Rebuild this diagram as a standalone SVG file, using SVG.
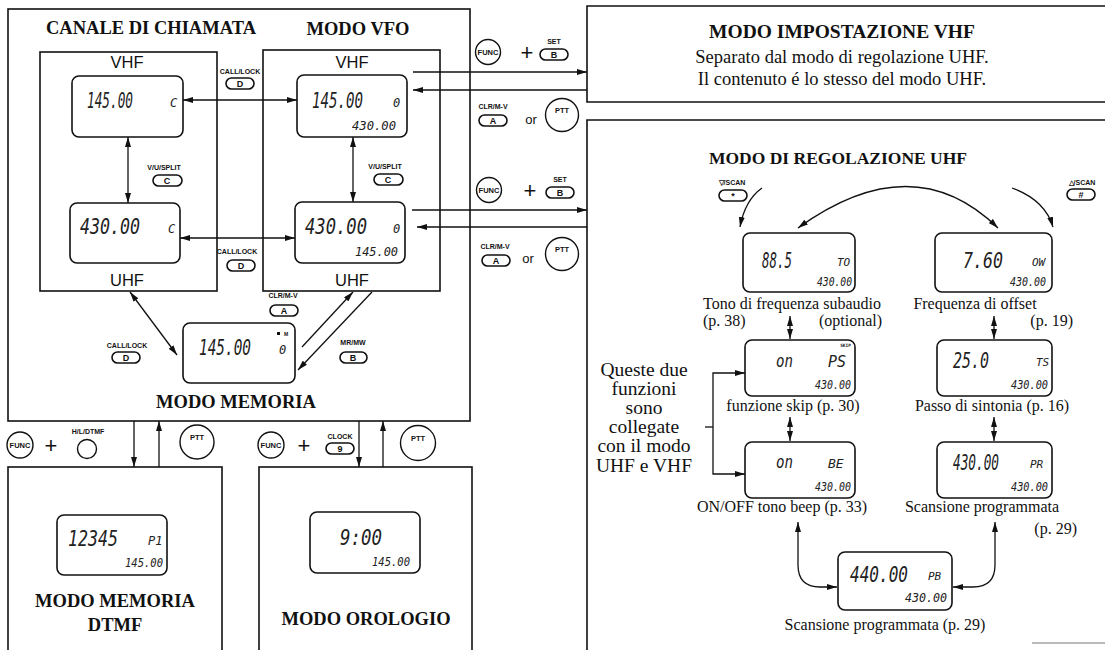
<svg xmlns="http://www.w3.org/2000/svg" width="1105" height="650" viewBox="0 0 1105 650">
<defs>
<marker id="ah" viewBox="0 0 10 6" refX="10" refY="3" markerWidth="10" markerHeight="6" orient="auto-start-reverse" markerUnits="userSpaceOnUse"><path d="M0,0 L10,3 L0,6 z" fill="#111"/></marker>
<style>
.box{fill:none;stroke:#111;stroke-width:1.6}
.lcd{fill:#fff;stroke:#111;stroke-width:1.6}
.ln{fill:none;stroke:#111;stroke-width:1.3}
.a2{marker-start:url(#ah);marker-end:url(#ah)}
.a1{marker-end:url(#ah)}
.hd{font-family:"Liberation Serif",serif;font-weight:bold;font-size:18.5px;fill:#111;text-anchor:middle}
.sv{font-family:"Liberation Sans",sans-serif;font-size:16.5px;fill:#111;text-anchor:middle}
.tx{font-family:"Liberation Serif",serif;font-size:16px;fill:#111}
.big{font-family:"Liberation Serif",serif;font-size:19.5px;fill:#111;text-anchor:middle}
.dg{font-family:"DejaVu Sans Mono",monospace;font-style:italic;font-size:21px;fill:#222}
.ds{font-family:"DejaVu Sans Mono",monospace;font-style:italic;font-size:12px;fill:#222}
.kl{font-family:"Liberation Sans",sans-serif;font-weight:bold;font-size:7px;fill:#111;text-anchor:middle}
.key{fill:#fff;stroke:#111;stroke-width:1.6}
.kt{font-family:"Liberation Sans",sans-serif;font-weight:bold;font-size:9px;fill:#111;text-anchor:middle}
.cir{fill:#fff;stroke:#111;stroke-width:1.4}
.ct{font-family:"Liberation Sans",sans-serif;font-weight:bold;font-size:7.5px;fill:#111;text-anchor:middle}
.pl{font-family:"Liberation Sans",sans-serif;font-size:22px;fill:#111;text-anchor:middle}
.or{font-family:"Liberation Sans",sans-serif;font-size:13px;fill:#111;text-anchor:middle}
</style>
</defs>

<!-- frames -->
<g id="main-frame">
<rect class="box" x="8" y="9" width="462" height="412"/>
<text class="hd" x="236" y="408">MODO MEMORIA</text>
</g>
<g id="canale">
<text class="hd" x="151" y="34">CANALE DI CHIAMATA</text>
<rect class="box" x="40" y="52" width="177" height="239"/>
<text class="sv" x="127" y="68">VHF</text>
<text class="sv" x="127" y="286">UHF</text>
</g>
<g id="vfo">
<text class="hd" x="358" y="35">MODO VFO</text>
<rect class="box" x="263" y="50" width="177" height="241"/>
<text class="sv" x="352" y="68">VHF</text>
<text class="sv" x="352" y="286">UHF</text>
</g>

<!-- LCDs left -->
<g id="lcd-call-vhf">
<rect class="lcd" x="72" y="76" width="111" height="61" rx="7"/>
<text class="dg" x="87" y="108" textLength="46" lengthAdjust="spacingAndGlyphs">145.00</text>
<text class="ds" x="170" y="107">C</text>
</g>
<g id="lcd-call-uhf">
<rect class="lcd" x="70" y="203" width="110" height="60" rx="7"/>
<text class="dg" x="80" y="234" textLength="60" lengthAdjust="spacingAndGlyphs">430.00</text>
<text class="ds" x="168" y="233">C</text>
</g>
<g id="lcd-vfo-vhf">
<rect class="lcd" x="297" y="75" width="110" height="62" rx="7"/>
<text class="dg" x="312" y="108" textLength="51" lengthAdjust="spacingAndGlyphs">145.00</text>
<text class="ds" x="393" y="107">0</text>
<text class="ds" x="352" y="130" textLength="44" lengthAdjust="spacingAndGlyphs">430.00</text>
</g>
<g id="lcd-vfo-uhf">
<rect class="lcd" x="295" y="202" width="110" height="61" rx="7"/>
<text class="dg" x="305" y="234" textLength="62" lengthAdjust="spacingAndGlyphs">430.00</text>
<text class="ds" x="393" y="233">0</text>
<text class="ds" x="355" y="256" textLength="43" lengthAdjust="spacingAndGlyphs">145.00</text>
</g>
<g id="lcd-memory">
<rect class="lcd" x="183" y="323" width="112" height="60" rx="7"/>
<text class="dg" x="199" y="355" textLength="52" lengthAdjust="spacingAndGlyphs">145.00</text>
<text class="ds" x="279" y="354">0</text>
<rect x="277" y="332" width="3" height="3" fill="#111"/>
<text class="kl" x="286" y="336" style="font-size:5px">M</text>
</g>

<!-- keys in left area -->
<g id="key-calllock-top">
<text class="kl" x="240" y="74">CALL/LOCK</text>
<rect class="key" x="226" y="78" width="28" height="11" rx="5.5"/><text class="kt" x="240" y="87">D</text>
</g>
<g id="key-vusplit-left">
<text class="kl" x="164" y="170">V/U/SPLIT</text>
<rect class="key" x="153" y="175" width="29" height="11" rx="5.5"/><text class="kt" x="167" y="184">C</text>
</g>
<g id="key-vusplit-right">
<text class="kl" x="385" y="169">V/U/SPLIT</text>
<rect class="key" x="374" y="174" width="29" height="11" rx="5.5"/><text class="kt" x="388" y="183">C</text>
</g>
<g id="key-calllock-mid">
<text class="kl" x="237" y="254">CALL/LOCK</text>
<rect class="key" x="227" y="260" width="28" height="11" rx="5.5"/><text class="kt" x="241" y="269">D</text>
</g>
<g id="key-clrmv-mem">
<text class="kl" x="283" y="298">CLR/M-V</text>
<rect class="key" x="270" y="305" width="28" height="11" rx="5.5"/><text class="kt" x="284" y="314">A</text>
</g>
<g id="key-calllock-left">
<text class="kl" x="127" y="348">CALL/LOCK</text>
<rect class="key" x="112" y="352" width="28" height="11" rx="5.5"/><text class="kt" x="126" y="361">D</text>
</g>
<g id="key-mrmw">
<text class="kl" x="353" y="345">MR/MW</text>
<rect class="key" x="340" y="352" width="27" height="11" rx="5.5"/><text class="kt" x="353" y="361">B</text>
</g>

<!-- keys to right panels -->
<g id="ctl-set-vhf">
<circle class="cir" cx="488" cy="52" r="12.5"/><text class="ct" x="488" y="55">FUNC</text>
<text class="pl" x="527" y="60">+</text>
<text class="kl" x="554" y="44">SET</text>
<rect class="key" x="540" y="49" width="28" height="11" rx="5.5"/><text class="kt" x="554" y="58">B</text>
</g>
<g id="ctl-exit-vhf">
<text class="kl" x="493" y="109">CLR/M-V</text>
<rect class="key" x="479" y="115" width="28" height="11" rx="5.5"/><text class="kt" x="493" y="124">A</text>
<text class="or" x="531" y="124">or</text>
<circle class="cir" cx="562" cy="115" r="16.5"/><text class="ct" x="562" y="113">PTT</text>
</g>
<g id="ctl-set-uhf">
<circle class="cir" cx="489" cy="190" r="12.5"/><text class="ct" x="489" y="193">FUNC</text>
<text class="pl" x="530" y="198">+</text>
<text class="kl" x="560" y="182">SET</text>
<rect class="key" x="546" y="187" width="28" height="11" rx="5.5"/><text class="kt" x="560" y="196">B</text>
</g>
<g id="ctl-exit-uhf">
<text class="kl" x="495" y="249">CLR/M-V</text>
<rect class="key" x="482" y="255" width="28" height="11" rx="5.5"/><text class="kt" x="496" y="264">A</text>
<text class="or" x="528" y="263">or</text>
<circle class="cir" cx="562" cy="254" r="16.5"/><text class="ct" x="562" y="252">PTT</text>
</g>

<!-- bottom controls -->
<g id="ctl-dtmf">
<circle class="cir" cx="20" cy="445" r="13"/><text class="ct" x="20" y="448">FUNC</text>
<text class="pl" x="51" y="453">+</text>
<text class="kl" x="88" y="434">H/L/DTMF</text>
<circle class="cir" cx="87" cy="449" r="9.5"/>
<circle class="cir" cx="197" cy="442" r="17"/><text class="ct" x="197" y="440">PTT</text>
</g>
<g id="ctl-clock">
<circle class="cir" cx="271" cy="445" r="13"/><text class="ct" x="271" y="448">FUNC</text>
<text class="pl" x="304" y="453">+</text>
<text class="kl" x="340" y="439">CLOCK</text>
<rect class="key" x="326" y="443" width="28" height="11" rx="5.5"/><text class="kt" x="340" y="452">9</text>
<circle class="cir" cx="418" cy="443" r="17.5"/><text class="ct" x="418" y="441">PTT</text>
</g>

<!-- DTMF box -->
<g id="dtmf">
<rect class="box" x="8" y="467" width="214" height="190"/>
<rect class="lcd" x="57" y="515" width="110" height="60" rx="7"/>
<text class="dg" x="68" y="546" textLength="50" lengthAdjust="spacingAndGlyphs">12345</text>
<text class="ds" x="148" y="545">P1</text>
<text class="ds" x="125" y="567" textLength="38" lengthAdjust="spacingAndGlyphs">145.00</text>
<text class="hd" x="115" y="607">MODO MEMORIA</text>
<text class="hd" x="115" y="631">DTMF</text>
</g>
<g id="orologio">
<rect class="box" x="259" y="467" width="213" height="190"/>
<rect class="lcd" x="310" y="512" width="110" height="61" rx="7"/>
<text class="dg" x="340" y="545" textLength="42" lengthAdjust="spacingAndGlyphs">9:00</text>
<text class="ds" x="372" y="566" textLength="38" lengthAdjust="spacingAndGlyphs">145.00</text>
<text class="hd" x="366" y="625">MODO OROLOGIO</text>
</g>

<!-- right panels -->
<g id="vhf-setting">
<path class="box" d="M1110,6 H587 V102 H1110"/>
<text class="hd" x="842" y="38" style="font-size:19.5px">MODO IMPOSTAZIONE VHF</text>
<text class="tx" x="842" y="63" style="font-size:18.5px;text-anchor:middle">Separato dal modo di regolazione UHF.</text>
<text class="tx" x="842" y="85" style="font-size:18.5px;text-anchor:middle">Il contenuto é lo stesso del modo UHF.</text>
</g>
<g id="uhf-setting">
<path class="box" d="M1110,120 H587 V652"/>
<line x1="1032" y1="643" x2="1105" y2="643" stroke="#777" stroke-width="1.2"/>
<text class="hd" x="838" y="164" style="font-size:17.5px">MODO DI REGOLAZIONE UHF</text>
<text class="kl" x="732" y="185">▽/SCAN</text>
<rect class="key" x="719" y="190" width="28" height="11" rx="5.5"/><text class="kt" x="733" y="199">*</text>
<text class="kl" x="1082" y="185">△/SCAN</text>
<rect class="key" x="1067" y="189" width="28" height="11" rx="5.5"/><text class="kt" x="1081" y="198">#</text>
</g>
<g id="lcd-tone">
<rect class="lcd" x="743" y="233" width="112" height="59" rx="7"/>
<text class="dg" x="762" y="268" textLength="30" lengthAdjust="spacingAndGlyphs">88.5</text>
<text class="ds" x="837" y="266" style="font-size:11px">TO</text>
<text class="ds" x="817" y="286" textLength="35" lengthAdjust="spacingAndGlyphs">430.00</text>
<text class="tx" x="792" y="309" style="text-anchor:middle">Tono di frequenza subaudio</text>
<text class="tx" x="703" y="326">(p. 38)</text>
<text class="tx" x="882" y="326" style="text-anchor:end">(optional)</text>
</g>
<g id="lcd-offset">
<rect class="lcd" x="935" y="233" width="117" height="59" rx="7"/>
<text class="dg" x="963" y="268" textLength="40" lengthAdjust="spacingAndGlyphs">7.60</text>
<text class="ds" x="1032" y="266" style="font-size:11px">OW</text>
<text class="ds" x="1010" y="286" textLength="36" lengthAdjust="spacingAndGlyphs">430.00</text>
<text class="tx" x="975" y="309" style="text-anchor:middle">Frequenza di offset</text>
<text class="tx" x="1073" y="326" style="text-anchor:end">(p. 19)</text>
</g>
<g id="lcd-skip">
<rect class="lcd" x="745" y="340" width="110" height="56" rx="7"/>
<text class="ds" x="851" y="347" style="font-size:4.5px;font-style:normal;text-anchor:end;font-weight:bold">SKIP</text>
<text class="dg" x="776" y="367" style="font-size:17px" textLength="17" lengthAdjust="spacingAndGlyphs">on</text>
<text class="dg" x="828" y="367" style="font-size:15px">PS</text>
<text class="ds" x="815" y="389" textLength="36" lengthAdjust="spacingAndGlyphs">430.00</text>
<text class="tx" x="793" y="411" style="text-anchor:middle">funzione skip (p. 30)</text>
</g>
<g id="lcd-step">
<rect class="lcd" x="937" y="340" width="115" height="56" rx="7"/>
<text class="dg" x="953" y="368" textLength="36" lengthAdjust="spacingAndGlyphs">25.0</text>
<text class="ds" x="1036" y="366" style="font-size:11px">TS</text>
<text class="ds" x="1011" y="389" textLength="37" lengthAdjust="spacingAndGlyphs">430.00</text>
<text class="tx" x="992" y="411" style="text-anchor:middle">Passo di sintonia (p. 16)</text>
</g>
<g id="lcd-beep">
<rect class="lcd" x="745" y="442" width="110" height="56" rx="7"/>
<text class="dg" x="776" y="468" style="font-size:17px" textLength="17" lengthAdjust="spacingAndGlyphs">on</text>
<text class="dg" x="828" y="468" style="font-size:13px">BE</text>
<text class="ds" x="815" y="491" textLength="36" lengthAdjust="spacingAndGlyphs">430.00</text>
<text class="tx" x="782" y="512" style="text-anchor:middle">ON/OFF tono beep (p. 33)</text>
</g>
<g id="lcd-pscan-a">
<rect class="lcd" x="937" y="442" width="115" height="56" rx="7"/>
<text class="dg" x="953" y="470" textLength="46" lengthAdjust="spacingAndGlyphs">430.00</text>
<text class="ds" x="1030" y="468" style="font-size:11px">PR</text>
<text class="ds" x="1011" y="491" textLength="37" lengthAdjust="spacingAndGlyphs">430.00</text>
<text class="tx" x="982" y="512" style="text-anchor:middle">Scansione programmata</text>
<text class="tx" x="1077" y="534" style="text-anchor:end">(p. 29)</text>
</g>
<g id="lcd-pscan-b">
<rect class="lcd" x="838" y="552" width="114" height="58" rx="7"/>
<text class="dg" x="850" y="582" textLength="58" lengthAdjust="spacingAndGlyphs">440.00</text>
<text class="ds" x="928" y="580" style="font-size:11px">PB</text>
<text class="ds" x="905" y="602" textLength="42" lengthAdjust="spacingAndGlyphs">430.00</text>
<text class="tx" x="885" y="630" style="text-anchor:middle">Scansione programmata (p. 29)</text>
</g>
<g id="note-linked">
<text class="big" x="644" y="376">Queste due</text>
<text class="big" x="644" y="395">funzioni</text>
<text class="big" x="644" y="414">sono</text>
<text class="big" x="644" y="433">collegate</text>
<text class="big" x="644" y="452">con il modo</text>
<text class="big" x="644" y="472">UHF e VHF</text>
</g>

<!-- connectors -->
<g id="connectors">
<line class="ln a2" x1="183" y1="100" x2="297" y2="100"/>
<line class="ln a2" x1="180" y1="238" x2="295" y2="238"/>
<line class="ln a2" x1="128" y1="137" x2="128" y2="203"/>
<line class="ln a2" x1="353" y1="137" x2="353" y2="202"/>
<line class="ln a2" x1="130" y1="292" x2="177" y2="355"/>
<line class="ln a1" x1="302" y1="347" x2="353" y2="292"/>
<line class="ln a1" x1="372" y1="292" x2="298" y2="370"/>
<line class="ln a1" x1="413" y1="72" x2="587" y2="72"/>
<line class="ln a1" x1="587" y1="90" x2="413" y2="90"/>
<line class="ln a1" x1="412" y1="210" x2="587" y2="210"/>
<line class="ln a1" x1="587" y1="227" x2="417" y2="227"/>
<line class="ln a1" x1="134" y1="421" x2="134" y2="467"/>
<line class="ln a1" x1="159" y1="467" x2="159" y2="421"/>
<line class="ln a1" x1="359" y1="421" x2="359" y2="467"/>
<line class="ln a1" x1="383" y1="467" x2="383" y2="421"/>
<path class="ln a2" d="M798,228 Q913,145 998,228"/>
<path class="ln a1" d="M762,188 Q745,200 740,227"/>
<path class="ln a1" d="M1012,188 Q1045,200 1053,227"/>
<line class="ln a2" x1="790" y1="316" x2="790" y2="339"/>
<line class="ln a2" x1="994" y1="316" x2="994" y2="339"/>
<line class="ln a2" x1="790" y1="417" x2="790" y2="441"/>
<line class="ln a2" x1="994" y1="417" x2="994" y2="441"/>
<path class="ln a2" d="M745,373 H713 V474 H745"/>
<line class="ln" x1="705" y1="427" x2="713" y2="427"/>
<path class="ln a2" d="M798,522 V565 Q798,587 820,587 H837"/>
<path class="ln a2" d="M995,522 V565 Q995,587 973,587 H953"/>
</g>
</svg>
